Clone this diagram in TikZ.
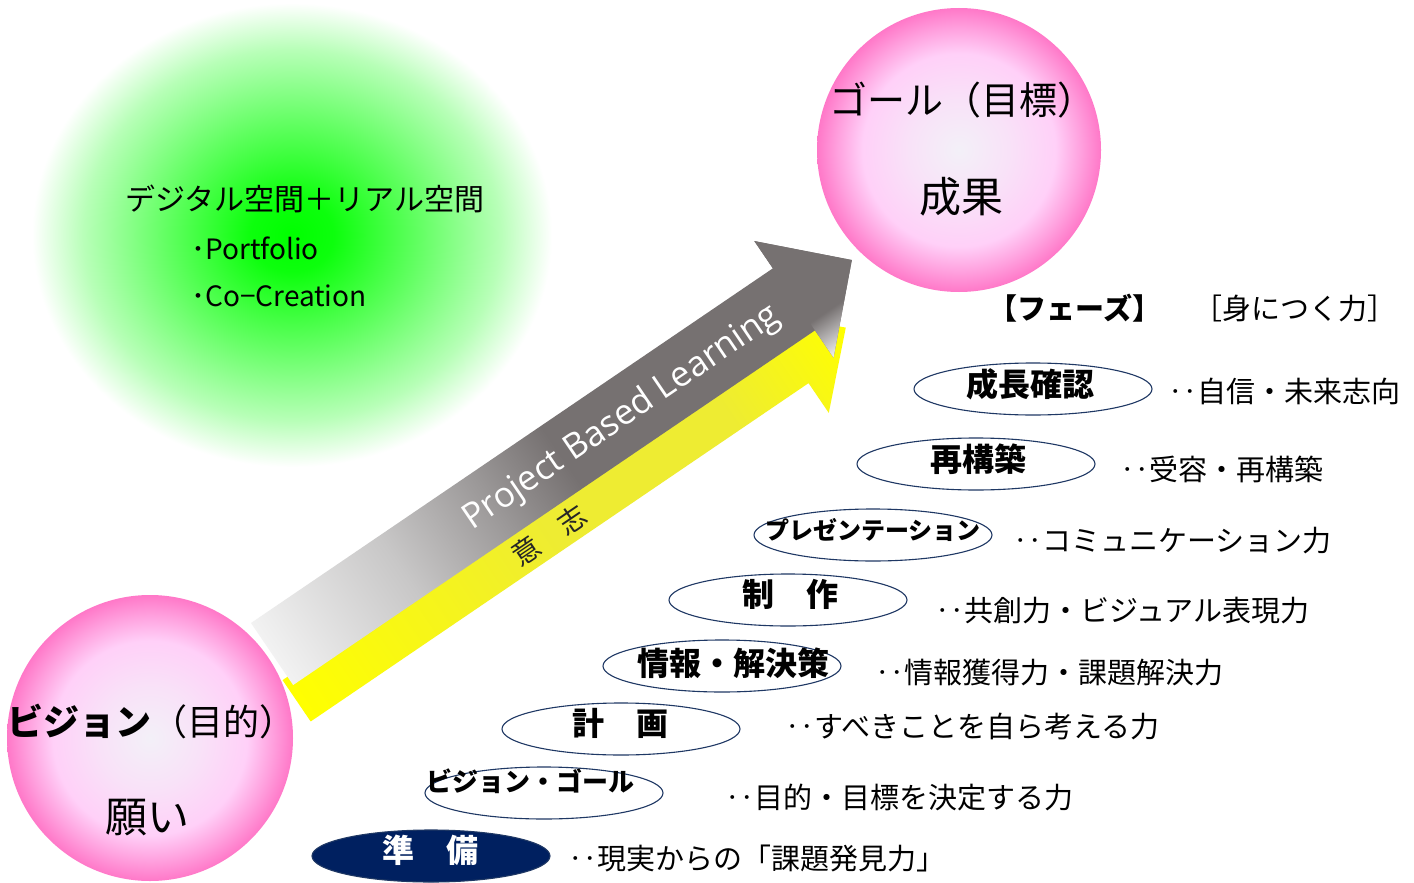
\documentclass[tikz,border=0pt]{standalone}
\usepackage{fontspec}
\setmainfont{Noto Sans CJK JP}
\newfontfamily\pblfont{Open Sans}
\usetikzlibrary{shapes.geometric}

\definecolor{pbldark}{RGB}{118,113,113}
\definecolor{gA}{RGB}{242,242,242}
\definecolor{gB}{RGB}{200,199,199}
\definecolor{gC}{RGB}{155,152,152}
\definecolor{navyline}{RGB}{31,56,100}
\definecolor{navyfill}{RGB}{0,32,96}
\definecolor{glowgreen}{RGB}{0,255,0}
\definecolor{pinkedge}{RGB}{255,120,200}
\definecolor{pinkmid}{RGB}{255,208,248}
\definecolor{pinkcenter}{RGB}{243,240,248}
\definecolor{yl}{RGB}{255,255,0}
\definecolor{yd}{RGB}{238,236,50}

\pgfdeclareradialshading{greenglow}{\pgfpoint{0bp}{0bp}}{color(0bp)=(glowgreen); color(4bp)=(glowgreen!95!white); color(12bp)=(glowgreen!62!white); color(20bp)=(glowgreen!28!white); color(25bp)=(white); color(50bp)=(white)}
\pgfdeclareradialshading{pinkball}{\pgfpoint{0bp}{0bp}}{color(0bp)=(pinkcenter); color(9bp)=(pinkcenter!55!pinkmid); color(17bp)=(pinkmid); color(21.5bp)=(pinkedge!55!pinkmid); color(25bp)=(pinkedge); color(50bp)=(pinkedge)}
\pgfdeclarehorizontalshading{pblgray}{100bp}{color(0bp)=(gA); color(25bp)=(gA); color(36bp)=(gB); color(44bp)=(gC); color(50bp)=(pbldark); color(100bp)=(pbldark)}
\pgfdeclareverticalshading{headfade}{100bp}{color(0bp)=(gA); color(25bp)=(gA); color(40bp)=(pbldark); color(100bp)=(pbldark)}
\pgfdeclarehorizontalshading{pblyellow}{100bp}{color(0bp)=(yl); color(25bp)=(yl); color(48bp)=(yd); color(64bp)=(yd); color(75bp)=(yl); color(100bp)=(yl)}

\begin{document}
\begin{tikzpicture}[x=1pt,y=-1pt,
  phase/.style={ellipse, draw=navyline, line width=1.1pt, fill=white, minimum width=238pt, minimum height=52pt, inner sep=0pt},
  phlabel/.style={font=\bfseries\fontsize{32pt}{34pt}\selectfont, inner sep=0pt},
  skill/.style={anchor=west, font=\fontsize{29pt}{31pt}\selectfont, inner sep=0pt},
  ball/.style={circle, shade, shading=pinkball, minimum size=#1, inner sep=0pt},
  plain/.style={inner sep=0pt}]
\useasboundingbox (0,0) rectangle (1414,883);
\fill[white] (0,0) rectangle (1414,883);

% green glow
\shade[shading=greenglow] (292,235) ellipse [x radius=260pt, y radius=232pt];
\node[plain, font=\fontsize{30pt}{32pt}\selectfont] (space) at (305,199) {デジタル空間＋リアル空間};
\node[plain, anchor=west, font=\fontsize{28pt}{30pt}\selectfont] (pf) at (191,248) {･Portfolio};
\node[plain, anchor=west, font=\fontsize{28pt}{30pt}\selectfont] (cc) at (191,296) {･Co−Creation};

% arrows
\begin{scope}[overlay, transform canvas={shift={(251,623)}, rotate=34.2}]
  \shade[shading=pblyellow] (-6,65) -- (-6,115) -- (596,115) -- (596,151) -- (658,90) -- (596,29) -- (596,65) -- cycle;
  \shade[shading=pblgray] (0,0) -- (0,75) -- (631,75) -- (631,108) -- (701,37.5) -- (631,-33) -- (631,0) -- cycle;
  \shade[shading=headfade] (631,-33) -- (701,37.5) -- (631,108) -- cycle;
  \node[plain, text=white, font=\pblfont\fontsize{35pt}{38pt}\selectfont] (pbl) at (422,39) {Project Based Learning};
  \node[plain, text=black!85, font=\fontsize{28pt}{30pt}\selectfont] (ishi) at (296,95) {意　志};
\end{scope}

% balls
\node[ball=284pt] (goal) at (959,150) {};
\node[plain, font=\fontsize{38pt}{40pt}\selectfont] (goalt) at (962,100) {ゴール（目標）};
\node[plain, font=\fontsize{42pt}{44pt}\selectfont] (seika) at (961,197) {成果};
\node[ball=286pt] (vision) at (150,738) {};
\node[plain, font=\fontsize{36pt}{38pt}\selectfont] (visiont) at (152,722) {{\bfseries ビジョン}（目的）};
\node[plain, font=\fontsize{42pt}{44pt}\selectfont] (negai) at (147,818) {願い};

% header
\node[plain, font=\bfseries\fontsize{29pt}{31pt}\selectfont] (hphase) at (1075,308) {【フェーズ】};
\node[plain, font=\fontsize{29pt}{31pt}\selectfont] (hskill) at (1295,308) {［身につく力］};

% phases
\node[phase] (p1) at (1033,389) {};
\node[phlabel] (p1t) at (1030,384) {成長確認};
\node[skill] (s1) at (1168,391) {‥自信・未来志向};

\node[phase] (p2) at (976,464) {};
\node[phlabel] (p2t) at (978,459) {再構築};
\node[skill] (s2) at (1120,469) {‥受容・再構築};

\node[phase] (p3) at (873,535) {};
\node[phlabel, font=\bfseries\fontsize{24pt}{26pt}\selectfont] (p3t) at (873,530) {プレゼンテーション};
\node[skill] (s3) at (1013,541) {‥コミュニケーション力};

\node[phase] (p4) at (788,600) {};
\node[phlabel] (p4t) at (790,594) {制　作};
\node[skill] (s4) at (935,611) {‥共創力・ビジュアル表現力};

\node[phase] (p5) at (722,666) {};
\node[phlabel] (p5t) at (733,663) {情報・解決策};
\node[skill] (s5) at (875,673) {‥情報獲得力・課題解決力};

\node[phase] (p6) at (621,729) {};
\node[phlabel] (p6t) at (620,723) {計　画};
\node[skill] (s6) at (785,727) {‥すべきことを自ら考える力};

\node[phase] (p7) at (544,793) {};
\node[phlabel, font=\bfseries\fontsize{26pt}{28pt}\selectfont] (p7t) at (530,781) {ビジョン・ゴール};
\node[skill] (s7) at (725,797) {‥目的・目標を決定する力};

\node[phase, fill=navyfill] (p8) at (431,856) {};
\node[phlabel, text=white] (p8t) at (430,850) {準　備};
\node[skill] (s8) at (568,858) {‥現実からの「課題発見力」};
\end{tikzpicture}
\end{document}
